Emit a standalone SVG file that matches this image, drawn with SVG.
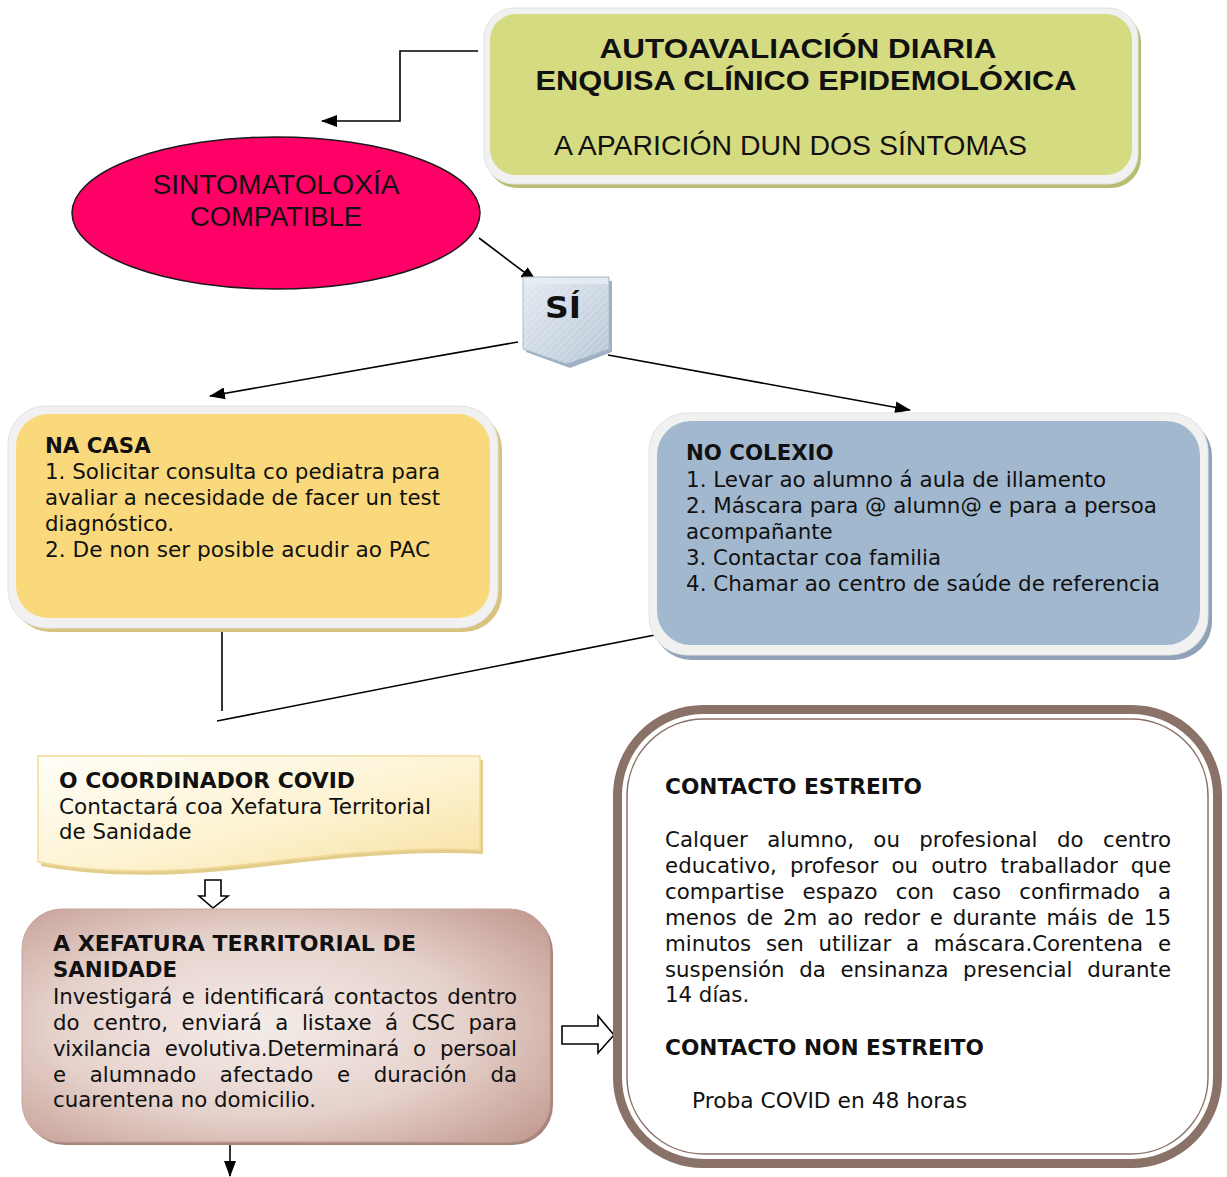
<svg xmlns="http://www.w3.org/2000/svg" width="1227" height="1177" viewBox="0 0 1227 1177">
<defs>
<style>
.t{font-family:"DejaVu Sans","Verdana",sans-serif;font-size:21.3px;fill:#111}
.b{font-weight:bold}
.ttl{font-family:"Liberation Sans","Arial",sans-serif;fill:#111}
.ln{stroke:#000;stroke-width:1.6;fill:none}
.hol{stroke:#000;stroke-width:1.6;fill:#fff}
.frame{fill:#f1f1f1;stroke:#e2e2e2;stroke-width:1}
</style>
<marker id="ah" viewBox="0 0 16 12" refX="15" refY="6" markerWidth="16" markerHeight="12" markerUnits="userSpaceOnUse" orient="auto">
<path d="M0,0 L16,6 L0,12 Z" fill="#000"/>
</marker>
<linearGradient id="gShield" x1="0" y1="0" x2="1" y2="1">
<stop offset="0" stop-color="#e4eaf1"/>
<stop offset="0.5" stop-color="#cfd9e4"/>
<stop offset="1" stop-color="#b7c6d5"/>
</linearGradient>
<pattern id="hatch" width="5" height="5" patternUnits="userSpaceOnUse" patternTransform="rotate(45)">
<line x1="0" y1="0" x2="0" y2="5" stroke="#ffffff" stroke-width="1.2" stroke-opacity="0.45"/>
</pattern>
<linearGradient id="gCoord" x1="0" y1="0" x2="1" y2="1">
<stop offset="0" stop-color="#fffef8"/>
<stop offset="0.55" stop-color="#fdf3d2"/>
<stop offset="1" stop-color="#f8e2a2"/>
</linearGradient>
<radialGradient id="gXef" cx="0.45" cy="0.5" r="0.7">
<stop offset="0" stop-color="#f4ece9"/>
<stop offset="0.55" stop-color="#e6d2cc"/>
<stop offset="1" stop-color="#c49d93"/>
</radialGradient>
</defs>

<rect width="1227" height="1177" fill="#fff"/>

<g id="connectors">
<polyline class="ln" points="478,51 400,51 400,121 322,121" marker-end="url(#ah)"/>
<line class="ln" x1="479" y1="238" x2="536" y2="281" marker-end="url(#ah)"/>
<line class="ln" x1="518" y1="342" x2="210" y2="396" marker-end="url(#ah)"/>
<line class="ln" x1="608" y1="355" x2="910" y2="410" marker-end="url(#ah)"/>
<line class="ln" x1="222" y1="626" x2="222" y2="711"/>
<line class="ln" x1="655" y1="635" x2="217" y2="721"/>
<line class="ln" x1="230" y1="1145" x2="230" y2="1176" marker-end="url(#ah)"/>
<polygon class="hol" points="205,880 221,880 221,896 228,896 213,908 199,896 205,896"/>
<polygon class="hol" points="562,1026 598,1026 598,1016 614,1035 598,1053 598,1044 562,1044"/>
</g>

<g id="node-autoavaliacion">
<rect x="487" y="12" width="654" height="176" rx="30" fill="#b9bd72"/>
<rect class="frame" x="484" y="8" width="654" height="176" rx="30"/>
<rect x="490" y="14" width="642" height="161" rx="26" fill="#d5db80"/>
<text class="ttl b" x="798" y="58" font-size="27" text-anchor="middle" textLength="397" lengthAdjust="spacingAndGlyphs">AUTOAVALIACIÓN DIARIA</text>
<text class="ttl b" x="806" y="90" font-size="27" text-anchor="middle" textLength="541" lengthAdjust="spacingAndGlyphs">ENQUISA CLÍNICO EPIDEMOLÓXICA</text>
<text class="ttl" x="554" y="155" font-size="28" textLength="473" lengthAdjust="spacingAndGlyphs">A APARICIÓN DUN DOS SÍNTOMAS</text>
</g>

<g id="node-sintomatoloxia">
<ellipse cx="276" cy="213" rx="204" ry="76" fill="#ff0066" stroke="#1a1a1a" stroke-width="1.5"/>
<text class="ttl" x="276" y="194" font-size="27" text-anchor="middle" textLength="247" lengthAdjust="spacingAndGlyphs">SINTOMATOLOXÍA</text>
<text class="ttl" x="276" y="226" font-size="27" text-anchor="middle" textLength="172" lengthAdjust="spacingAndGlyphs">COMPATIBLE</text>
</g>

<g id="node-si">
<path d="M526,281 H612 V352 L570,368 L526,352 Z" fill="#9fb0c2"/>
<path d="M523,277 H609 V349 L567,364 L523,349 Z" fill="url(#gShield)" stroke="#a9b9ca" stroke-width="1"/>
<path d="M523,277 H609 V349 L567,364 L523,349 Z" fill="url(#hatch)"/>
<rect x="524" y="278" width="84" height="6" fill="#e9eef4" opacity="0.8"/>
<text class="t b" x="563" y="318" style="font-size:30px" text-anchor="middle" textLength="36" lengthAdjust="spacingAndGlyphs">SÍ</text>
</g>

<g id="node-na-casa">
<rect x="12" y="411" width="490" height="221" rx="38" fill="#d9c27e"/>
<rect class="frame" x="8" y="406" width="490" height="222" rx="38"/>
<rect x="16" y="414" width="474" height="204" rx="32" fill="#f9d97c"/>
<text class="t b" x="45" y="453">NA CASA</text>
<text class="t" x="45" y="479" textLength="395" lengthAdjust="spacingAndGlyphs">1. Solicitar consulta co pediatra para</text>
<text class="t" x="45" y="505" textLength="395" lengthAdjust="spacingAndGlyphs">avaliar a necesidade de facer un test</text>
<text class="t" x="45" y="531">diagnóstico.</text>
<text class="t" x="45" y="557" textLength="385" lengthAdjust="spacingAndGlyphs">2. De non ser posible acudir ao PAC</text>
</g>

<g id="node-no-colexio">
<rect x="653" y="418" width="559" height="242" rx="38" fill="#8fa2b7"/>
<rect class="frame" x="649" y="413" width="559" height="242" rx="38"/>
<rect x="657" y="421" width="543" height="224" rx="34" fill="#a2b8cf"/>
<text class="t b" x="686" y="460">NO COLEXIO</text>
<text class="t" x="686" y="487" textLength="420" lengthAdjust="spacingAndGlyphs">1. Levar ao alumno á aula de illamento</text>
<text class="t" x="686" y="513" textLength="471" lengthAdjust="spacingAndGlyphs">2. Máscara para @ alumn@ e para a persoa</text>
<text class="t" x="686" y="539">acompañante</text>
<text class="t" x="686" y="565" textLength="255" lengthAdjust="spacingAndGlyphs">3. Contactar coa familia</text>
<text class="t" x="686" y="591" textLength="474" lengthAdjust="spacingAndGlyphs">4. Chamar ao centro de saúde de referencia</text>
</g>

<g id="node-coordinador">
<path d="M41,760 H483 V854 C403,850 323,860 243,869 C163,878 93,876 41,866 Z" fill="#e3cd8c"/>
<path d="M38,756 H480 V850 C400,846 320,856 240,865 C160,874 90,872 38,862 Z" fill="url(#gCoord)" stroke="#f2db98" stroke-width="1.5"/>
<text class="t b" x="59" y="788" textLength="296" lengthAdjust="spacingAndGlyphs">O COORDINADOR COVID</text>
<text class="t" x="59" y="814" textLength="372" lengthAdjust="spacingAndGlyphs">Contactará coa Xefatura Territorial</text>
<text class="t" x="59" y="839">de Sanidade</text>
</g>

<g id="node-xefatura">
<rect x="25" y="912" width="528" height="233" rx="40" fill="#a9877e"/>
<rect x="22" y="909" width="528" height="233" rx="40" fill="url(#gXef)" stroke="#c6a49b" stroke-width="1"/>
<text class="t b" x="53" y="951" textLength="363" lengthAdjust="spacingAndGlyphs">A XEFATURA TERRITORIAL DE</text>
<text class="t b" x="53" y="977">SANIDADE</text>
<text class="t" x="53" y="1004" word-spacing="2.5" textLength="464" lengthAdjust="spacing">Investigará e identificará contactos dentro</text>
<text class="t" x="53" y="1030" word-spacing="6.7" textLength="464" lengthAdjust="spacing">do centro, enviará a listaxe á CSC para</text>
<text class="t" x="53" y="1056" word-spacing="7.6" textLength="464" lengthAdjust="spacing">vixilancia evolutiva.Determinará o persoal</text>
<text class="t" x="53" y="1082" word-spacing="16.9" textLength="464" lengthAdjust="spacing">e alumnado afectado e duración da</text>
<text class="t" x="53" y="1107" textLength="263" lengthAdjust="spacingAndGlyphs">cuarentena no domicilio.</text>
</g>

<g id="node-contacto">
<rect x="617.5" y="709.5" width="600" height="454" rx="86" fill="#fff" stroke="#8b7268" stroke-width="9"/>
<rect x="627" y="719" width="581" height="435" rx="77" fill="none" stroke="#8b7268" stroke-width="1.5"/>
<text class="t b" x="665" y="794" textLength="257" lengthAdjust="spacingAndGlyphs">CONTACTO ESTREITO</text>
<text class="t" x="665" y="847" word-spacing="12.6" textLength="506" lengthAdjust="spacing">Calquer alumno, ou profesional do centro</text>
<text class="t" x="665" y="873" word-spacing="6.3" textLength="506" lengthAdjust="spacing">educativo, profesor ou outro traballador que</text>
<text class="t" x="665" y="899" word-spacing="11.4" textLength="506" lengthAdjust="spacing">compartise espazo con caso confirmado a</text>
<text class="t" x="665" y="925" word-spacing="3.1" textLength="506" lengthAdjust="spacing">menos de 2m ao redor e durante máis de 15</text>
<text class="t" x="665" y="951" word-spacing="8" textLength="506" lengthAdjust="spacing">minutos sen utilizar a máscara.Corentena e</text>
<text class="t" x="665" y="977" word-spacing="7.9" textLength="506" lengthAdjust="spacing">suspensión da ensinanza presencial durante</text>
<text class="t" x="665" y="1002">14 días.</text>
<text class="t b" x="665" y="1055" textLength="319" lengthAdjust="spacingAndGlyphs">CONTACTO NON ESTREITO</text>
<text class="t" x="692" y="1108" textLength="275" lengthAdjust="spacingAndGlyphs">Proba COVID en 48 horas</text>
</g>
</svg>
